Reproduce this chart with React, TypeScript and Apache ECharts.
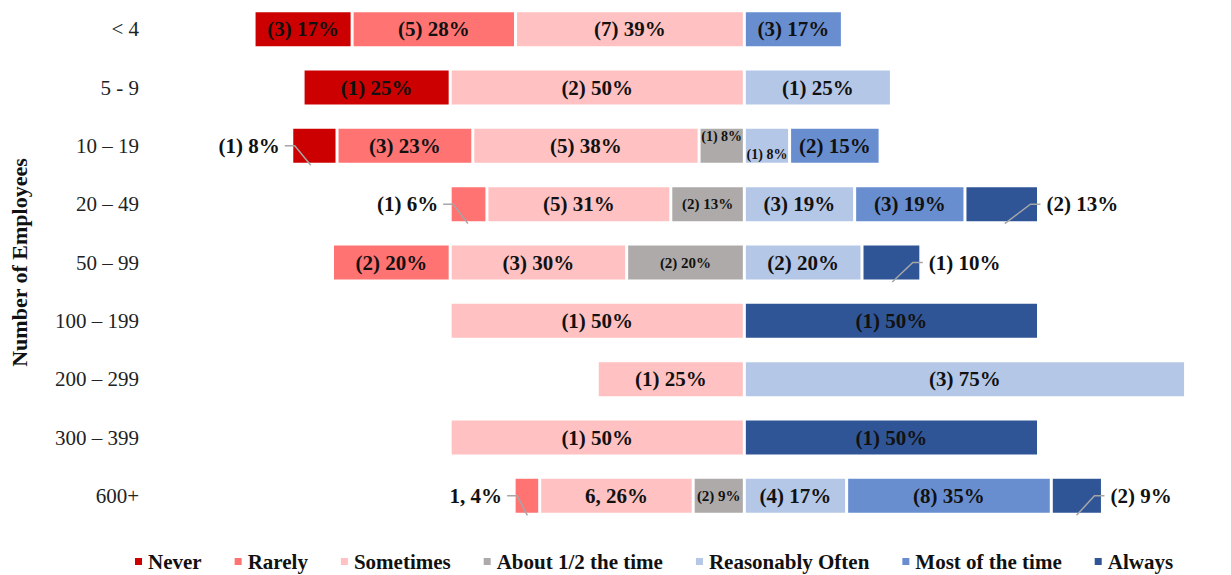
import React, { useEffect, useRef } from "react";
import * as echarts from "echarts";

const categories = ["< 4", "5 - 9", "10 – 19", "20 – 49", "50 – 99", "100 – 199", "200 – 299", "300 – 399", "600+"];
const legendNames = ["Never", "Rarely", "Sometimes", "About 1/2 the time", "Reasonably Often", "Most of the time", "Always"];

// counts of responses per employee-size category
const never = [3, 1, 1, 0, 0, 0, 0, 0, 0];
const rarely = [5, 0, 3, 1, 2, 0, 0, 0, 1];
const sometimes = [7, 2, 5, 5, 3, 1, 1, 1, 6];
const aboutHalf = [0, 0, 1, 2, 2, 0, 0, 0, 2];
const reasonablyOften = [0, 1, 1, 3, 2, 0, 3, 0, 4];
const mostOfTheTime = [3, 0, 2, 3, 0, 0, 0, 0, 8];
const always = [0, 0, 0, 2, 1, 1, 0, 1, 2];

const colors: Record<string, string> = {
  "Never": "#cc0000",
  "Rarely": "#ff7373",
  "Sometimes": "#ffc1c1",
  "About 1/2 the time": "#aeaaaa",
  "Reasonably Often": "#b4c7e7",
  "Most of the time": "#698ed0",
  "Always": "#2f5597",
};

const FONT = "'Liberation Serif', 'Times New Roman', serif";
const BAR_W = 37;

export default function App() {
  const ref = useRef<HTMLDivElement>(null);
  useEffect(() => {
    if (!ref.current) return;
    const chart = echarts.init(ref.current, undefined, { renderer: "svg" });

    const counts: Record<string, number[]> = {
      "Never": never,
      "Rarely": rarely,
      "Sometimes": sometimes,
      "About 1/2 the time": aboutHalf,
      "Reasonably Often": reasonablyOften,
      "Most of the time": mostOfTheTime,
      "Always": always,
    };
    const totals = categories.map((_, i) =>
      legendNames.reduce((s, n) => s + counts[n][i], 0)
    );
    const pct = (n: string, i: number) => (counts[n][i] / totals[i]) * 100;

    const negative = ["About 1/2 the time", "Sometimes", "Rarely", "Never"]; // from centre outward
    const positive = ["Reasonably Often", "Most of the time", "Always"];
    const order = [...negative, ...positive];

    const commaLabels: Record<string, number[]> = { "Rarely": [8], "Sometimes": [8] };
    const outside: Record<string, Record<number, "left" | "right">> = {
      "Never": { 2: "left" },
      "Rarely": { 3: "left", 8: "left" },
      "Always": { 3: "right", 4: "right", 8: "right" },
    };

    const leaders: number[][] = [];

    const series: any[] = order.map((name) => {
      const sign = negative.includes(name) ? -1 : 1;
      const data = categories.map((_, i) => {
        const c = counts[name][i];
        if (!c) return { value: null };
        const p = pct(name, i);
        const r = Math.round(p);
        const text = commaLabels[name]?.includes(i) ? `${c}, ${r}%` : `(${c}) ${r}%`;
        const label: any = { formatter: text };
        if (name === "About 1/2 the time") label.fontSize = 15;
        if (name === "About 1/2 the time" && i === 2) { label.fontSize = 14; label.offset = [0, -9]; }
        if (name === "Reasonably Often" && i === 2) { label.fontSize = 14; label.offset = [0, 9]; }
        const side = outside[name]?.[i];
        if (side) {
          label.position = side;
          label.distance = side === "left" ? 12 : 8;
          const group = sign < 0 ? negative : positive;
          let before = 0;
          for (const g of group) { if (g === name) break; before += pct(g, i); }
          const a = sign * before;
          const b = sign * (before + p);
          leaders.push([i, Math.min(a, b), Math.max(a, b), side === "left" ? -1 : 1]);
        }
        return { value: sign * p, label };
      });
      return {
        name,
        type: "bar",
        stack: "total",
        barWidth: BAR_W,
        data,
        itemStyle: { color: colors[name], borderColor: "#ffffff", borderWidth: 1.5 },
        label: {
          show: true,
          position: "inside",
          fontFamily: FONT,
          fontWeight: "bold",
          fontSize: 21,
          color: "#111111",
        },
      };
    });

    series.push({
      type: "custom",
      name: "leaders",
      encode: { x: [1, 2], y: 0 },
      data: leaders,
      z: 5,
      renderItem: (params: any, api: any) => {
        const cat = api.value(0);
        const a = api.value(1);
        const b = api.value(2);
        const side = api.value(3);
        const pa = api.coord([a, cat]);
        const pb = api.coord([b, cat]);
        const x0 = Math.min(pa[0], pb[0]);
        const x1 = Math.max(pa[0], pb[0]);
        const cy = pa[1];
        const w = x1 - x0;
        let pts: number[][];
        if (side < 0) {
          const d = Math.min(w * 0.4, 16);
          pts = [[x0 - 7, cy], [x0 + 3, cy], [x0 + 3 + d, cy + BAR_W / 2 + 1]];
        } else {
          const d = Math.min(w * 0.35, 26);
          pts = [[x1 + 2, cy], [x1 - 8, cy], [x1 - 8 - d, cy + BAR_W / 2 + 1]];
        }
        return {
          type: "polyline",
          shape: { points: pts },
          style: { stroke: "#a6a6a6", lineWidth: 1.5, fill: null },
        };
      },
    });

    chart.setOption({
      animation: false,
      grid: { left: 153, right: 16, top: 0, bottom: 50, containLabel: false },
      xAxis: {
        type: "value",
        min: -100,
        max: 80,
        show: false,
      },
      yAxis: {
        type: "category",
        data: categories,
        inverse: true,
        axisLine: { show: false },
        axisTick: { show: false },
        axisLabel: { fontFamily: FONT, fontSize: 21, color: "#222222", margin: 17 },
        name: "Number of Employees",
        nameLocation: "middle",
        nameRotate: 90,
        nameGap: 126,
        nameTextStyle: { fontFamily: FONT, fontWeight: "bold", fontSize: 22, color: "#111111" },
      },
      legend: {
        data: legendNames,
        left: 128,
        top: 546,
        icon: "rect",
        itemWidth: 9,
        itemHeight: 9,
        itemGap: 31,
        textStyle: { fontFamily: FONT, fontWeight: "bold", fontSize: 21, color: "#111111" },
      },
      series,
    });
    return () => chart.dispose();
  }, []);
  return (
    <div
      ref={ref}
      style={{ position: "fixed", left: 0, top: 0, width: 1231, height: 575, background: "#ffffff" }}
    />
  );
}
